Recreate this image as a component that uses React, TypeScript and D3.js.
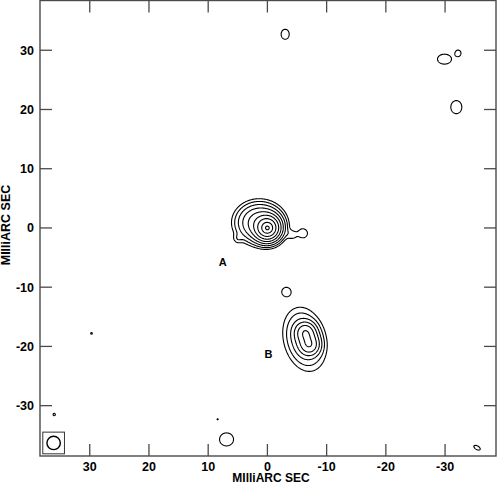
import React from 'react';
import * as d3 from 'd3';

const WIDTH = 497;
const HEIGHT = 484;

// map extent in milliarcsec (RA runs right to left)
const xDomain = [38.4, -38.6];
const yDomain = [38.4, -38.5];
const tickValues = [30, 20, 10, 0, -10, -20, -30];
const contourLevels = [1, 2, 4, 8, 16, 32, 64, 128, 256];

// gaussian components
// A: three core terms, offset halo, hook, neck, right knot
// B: jet knot (two peaks + middle + envelope), then noise blobs
const compX = [0, 0, 0, 1.4, 5.0, -4.3, -3.6, -6.0,
  -6.4, -7.1, -6.75, -6.3,
  -3.0, -29.9, -32.2, -31.9, -3.2, 6.9, 29.7, 36.0, 8.4, -35.4];
const compY = [0, 0, 0, 0.9, -1.8, -1.2, -1.0, -0.9,
  -17.6, -19.8, -18.7, -18.8,
  32.7, 28.5, 29.5, 20.4, -10.8, -35.7, -17.8, -31.5, -32.3, -37.1];
const compPeak = [120, 100, 60, 24, 1.3, 1.2, 0.6, 1.8,
  22, 22, 10, 8,
  1.9, 1.9, 1.9, 1.9, 1.9, 1.9, 1.05, 1.1, 1.03, 1.9];
const compSigX = [0.4, 0.9, 1.2, 1.85, 0.55, 0.55, 0.6, 0.7,
  0.9, 0.9, 1.0, 1.75,
  0.6, 1.04, 0.42, 0.82, 0.67, 1.04, 0.45, 0.45, 0.4, 0.53];
const compSigY = [0.4, 0.9, 1.2, 1.6, 0.55, 0.55, 0.6, 0.7,
  0.9, 0.9, 1.0, 2.7,
  0.74, 0.74, 0.46, 0.97, 0.67, 0.97, 0.45, 0.45, 0.4, 0.27];
const compAngle = [0, 0, 0, 0, 0, 0, 0, 0,
  0, 0, 0, -14,
  0, 0, 0, 0, 0, 0, 0, 0, 0, 30];

const componentLabels = ['A', 'B'];
const labelX = [7.55, -0.2];
const labelY = [-5.7, -21.3];

const beamX = 36.1;
const beamY = -36.3;
const beamRadius = 1.13;
const beamBoxHalf = 1.83;

const GRID_STEP = 0.1;
const GRID_X0 = -39.5;
const GRID_Y0 = -39.5;
const GRID_N = 791;

function buildGrid() {
  const values = new Float64Array(GRID_N * GRID_N);
  compX.forEach((cx, k) => {
    const a = (compAngle[k] * Math.PI) / 180;
    const sx = compSigX[k];
    const sy = compSigY[k];
    const reach = 5 * Math.max(sx, sy);
    const i0 = Math.max(0, Math.floor((cx - reach - GRID_X0) / GRID_STEP));
    const i1 = Math.min(GRID_N - 1, Math.ceil((cx + reach - GRID_X0) / GRID_STEP));
    const j0 = Math.max(0, Math.floor((compY[k] - reach - GRID_Y0) / GRID_STEP));
    const j1 = Math.min(GRID_N - 1, Math.ceil((compY[k] + reach - GRID_Y0) / GRID_STEP));
    for (let j = j0; j <= j1; j++) {
      const dy = GRID_Y0 + j * GRID_STEP - compY[k];
      for (let i = i0; i <= i1; i++) {
        const dx = GRID_X0 + i * GRID_STEP - cx;
        const u = dx * Math.cos(a) + dy * Math.sin(a);
        const v = -dx * Math.sin(a) + dy * Math.cos(a);
        values[i + j * GRID_N] += compPeak[k] * Math.exp(-(u * u) / (2 * sx * sx) - (v * v) / (2 * sy * sy));
      }
    }
  });
  return values;
}

export default function App() {
  const margin = {left: 40, right: 1, top: 0.5, bottom: 28};
  const x = d3.scaleLinear().domain(xDomain).range([margin.left, WIDTH - margin.right]);
  const y = d3.scaleLinear().domain(yDomain).range([margin.top, HEIGHT - margin.bottom]);

  const contours = React.useMemo(() => {
    const grid = buildGrid();
    return d3.contours().size([GRID_N, GRID_N]).thresholds(contourLevels)(Array.from(grid));
  }, []);

  const path = d3.geoPath(d3.geoTransform({
    point(gx, gy) {
      this.stream.point(x(GRID_X0 + (gx - 0.5) * GRID_STEP), y(GRID_Y0 + (gy - 0.5) * GRID_STEP));
    }
  }));

  const [x0, x1] = x.range();
  const [y0, y1] = y.range();
  const tickLen = 12;
  const axisColor = '#4a4a4a';
  const font = {fontFamily: '"Liberation Sans", Arial, sans-serif', fontWeight: 'bold'};

  return (
    <svg width={WIDTH} height={HEIGHT} style={{position: 'fixed', left: 0, top: 0, background: '#fff'}}>
      <defs>
        <clipPath id="plot-clip">
          <rect x={x0} y={y0} width={x1 - x0} height={y1 - y0}/>
        </clipPath>
      </defs>

      <g clipPath="url(#plot-clip)" fill="none" stroke="#000" strokeWidth={1.1}>
        {contours.map((c, i) => <path key={i} d={path(c) || ''}/>)}
      </g>

      {/* beam */}
      <rect x={x(beamX + beamBoxHalf)} y={y(beamY + beamBoxHalf)}
        width={x(beamX - beamBoxHalf) - x(beamX + beamBoxHalf)}
        height={y(beamY - beamBoxHalf) - y(beamY + beamBoxHalf)}
        fill="none" stroke="#333" strokeWidth={1}/>
      <ellipse cx={x(beamX)} cy={y(beamY)} rx={x(beamX - beamRadius) - x(beamX)}
        ry={y(beamY - beamRadius) - y(beamY)} fill="none" stroke="#000" strokeWidth={1.4}/>

      {componentLabels.map((t, i) => (
        <text key={t} x={x(labelX[i])} y={y(labelY[i])} dy="0.36em" textAnchor="middle"
          fontSize={11} style={font}>{t}</text>
      ))}

      {/* frame + inward ticks on all sides */}
      <rect x={x0} y={y0} width={x1 - x0} height={y1 - y0} fill="none" stroke={axisColor} strokeWidth={1.4}/>
      <g stroke={axisColor} strokeWidth={1.3}>
        {tickValues.map(v => (
          <g key={v}>
            <line x1={x(v)} x2={x(v)} y1={y1} y2={y1 - tickLen}/>
            <line x1={x(v)} x2={x(v)} y1={y0} y2={y0 + tickLen}/>
            <line y1={y(v)} y2={y(v)} x1={x0} x2={x0 + tickLen}/>
            <line y1={y(v)} y2={y(v)} x1={x1} x2={x1 - tickLen}/>
          </g>
        ))}
      </g>
      <g fontSize={12.5} style={font} fill="#000">
        {tickValues.map(v => (
          <text key={'x' + v} x={x(v)} y={y1 + 14.5} textAnchor="middle">{v}</text>
        ))}
        {tickValues.map(v => (
          <text key={'y' + v} x={x0 - 6} y={y(v)} dy="0.36em" textAnchor="end">{v}</text>
        ))}
        <text x={271} y={481.5} textAnchor="middle" fontSize={12}>MIlliARC SEC</text>
        <text transform={`translate(10,225) rotate(-90)`} textAnchor="middle">MIlliARC SEC</text>
      </g>
    </svg>
  );
}
